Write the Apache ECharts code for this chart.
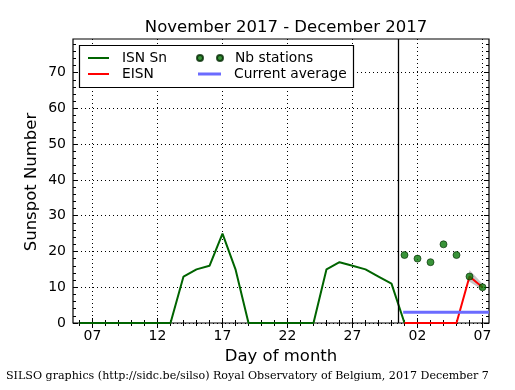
<!DOCTYPE html>
<html>
<head>
<meta charset="utf-8">
<script src="https://cdn.jsdelivr.net/npm/echarts@6/dist/echarts.min.js"></script>
<style>html,body{margin:0;padding:0;background:#fff}#c{width:515px;height:390px}</style>
</head>
<body>
<div id="c"></div>
<script>
// Day index: November days as-is, December days as 30 + day
const isnDays   = [6,7,8,9,10,11,12,13,14,15,16,17,18,19,20,21,22,23,24,25,26,27,28,29,30,31];
const isnValues = [0,0,0,0,0,0,0,0,13,15,16,25,15,0,0,0,0,0,0,15,17,16,15,13,11,0];
const eisnDays   = [31,32,33,34,35,36,37];
const eisnValues = [0,0,0,0,0,13,10];
const nbDays     = [31,32,33,34,35,36,37];
const nbValues   = [19,18,17,22,19,13,10];
const bandDays   = [35.9,36,37];
const bandLow    = [11.3,11.5,9.2];
const bandHigh   = [11.8,14.8,11.0];
const avgDays    = [30.9,37.5];
const avgValues  = [3,3];
const separatorDay = 30.5;
const xRange = [5.5,37.5];
const yRange = [0,79.4];
const xMajorTicks = [7,12,17,22,27,32,37];
const xMinorTicks = [6,7,8,9,10,11,12,13,14,15,16,17,18,19,20,21,22,23,24,25,26,27,28,29,30,31,32,33,34,35,36,37];
const yMajorTicks = [0,10,20,30,40,50,60,70];
const yMinorTicks = [0,2,4,6,8,10,12,14,16,18,20,22,24,26,28,30,32,34,36,38,40,42,44,46,48,50,52,54,56,58,60,62,64,66,68,70,72,74,76,78];

const pair = (xs, ys) => xs.map((x,i)=>[x,ys[i]]);
const dayLabel = v => { const d = v > 30 ? v - 30 : v; return String(Math.round(d)).padStart(2,'0'); };
const FONT = 'DejaVu Sans';
const dotted = {show:true, lineStyle:{color:'#000', type:[1,3], width:1}};

function xAx(pos, ticks, len, labels, split){
  return {type:'value', min:xRange[0], max:xRange[1], position:pos,
    axisLine:{show:false},
    axisTick:{show:true, inside:true, length:len, customValues:ticks, lineStyle:{color:'#000'}},
    axisLabel: labels ? {show:true, customValues:ticks, formatter:dayLabel, color:'#000', fontSize:14, fontFamily:FONT, margin:6} : {show:false},
    splitLine: split ? dotted : {show:false}};
}
function yAx(pos, ticks, len, labels, split){
  return {type:'value', min:yRange[0], max:yRange[1], position:pos,
    axisLine:{show:false},
    axisTick:{show:true, inside:true, length:len, customValues:ticks, lineStyle:{color:'#000'}},
    axisLabel: labels ? {show:true, customValues:ticks, color:'#000', fontSize:14, fontFamily:FONT, margin:7} : {show:false},
    splitLine: split ? dotted : {show:false}};
}
function leg(name, icon, left, centerY, w, h, pad){
  return {left:left, top:centerY-8, padding:0, orient:'vertical', itemWidth:w, itemHeight:h, z:10,
    data:[{name:name, icon:icon}],
    formatter: n => '{a|'+n+'}',
    textStyle:{fontFamily:FONT, fontSize:13.8, color:'#000',
      rich:{a:{fontFamily:FONT, fontSize:13.8, color:'#000', padding:[0,0,0,pad], height:16, lineHeight:16}}}};
}

const chart = echarts.init(document.getElementById('c'), null, {renderer:'canvas'});
chart.setOption({
  animation:false,
  backgroundColor:'#fff',
  title:{text:'November 2017 - December 2017', left:281, top:14, textAlign:'center',
    textStyle:{fontFamily:FONT, fontSize:16.5, fontWeight:'normal', color:'#000'}},
  grid:{left:73, right:26, top:39, bottom:67, show:true, borderColor:'#000', borderWidth:1.2, backgroundColor:'transparent'},
  xAxis:[ xAx('bottom', xMajorTicks, 5, true, true),
          xAx('bottom', xMinorTicks, 3, false, false),
          xAx('top', xMajorTicks, 5, false, false),
          xAx('top', xMinorTicks, 3, false, false) ],
  yAxis:[ yAx('left', yMajorTicks, 5, true, true),
          yAx('left', yMinorTicks, 3, false, false),
          yAx('right', yMajorTicks, 5, false, false),
          yAx('right', yMinorTicks, 3, false, false) ],
  legend:[
    leg('ISN Sn', 'rect', 88, 58, 21, 2, 8),
    leg('EISN', 'rect', 88, 74, 21, 2, 8),
    leg('Nb stations', 'path://M0,3a3,3 0 1,0 6,0a3,3 0 1,0 -6,0Z M20,3a3,3 0 1,0 6,0a3,3 0 1,0 -6,0Z', 196, 58, 26, 6, 7),
    leg('Current average', 'rect', 198, 74, 23, 3, 8)
  ],
  graphic:[
    {type:'rect', shape:{x:79.5, y:45.5, width:274, height:42}, style:{fill:'#fff', stroke:'#000', lineWidth:1.2}, z:5},
    {type:'text', x:281, y:357, style:{text:'Day of month', font:'16.5px "DejaVu Sans"', fill:'#000', textAlign:'center', textVerticalAlign:'middle'}},
    {type:'text', x:32, y:182, rotation:Math.PI/2, style:{text:'Sunspot Number', font:'16.5px "DejaVu Sans"', fill:'#000', textAlign:'center', textVerticalAlign:'middle'}},
    {type:'text', x:6, y:376, style:{text:'SILSO graphics (http://sidc.be/silso) Royal Observatory of Belgium, 2017 December 7', font:'11.1px "DejaVu Serif"', fill:'#000', textAlign:'left', textVerticalAlign:'middle'}}
  ],
  series:[
    {name:'band', type:'custom', silent:true, z:1, data:[[bandDays[0], bandLow[0]]],
     renderItem:(params, api) => {
       const up = bandDays.map((d,i)=>api.coord([d, bandHigh[i]]));
       const lo = bandDays.map((d,i)=>api.coord([d, bandLow[i]])).reverse();
       return {type:'polygon', shape:{points:up.concat(lo)}, style:{fill:'rgba(128,128,128,0.45)'}};
     }},
    {name:'ISN Sn', type:'line', data:pair(isnDays, isnValues), symbol:'none', color:'#006400', lineStyle:{width:2, color:'#006400'}, z:3,
     markLine:{silent:true, symbol:'none', label:{show:false}, lineStyle:{color:'#000', type:'solid', width:1.3}, data:[{xAxis:separatorDay}]}},
    {name:'EISN', type:'line', data:pair(eisnDays, eisnValues), symbol:'none', color:'#ff0000', lineStyle:{width:2, color:'#ff0000'}, z:3},
    {name:'Current average', type:'line', data:pair(avgDays, avgValues), symbol:'none', color:'#6b6bff', lineStyle:{width:3, color:'#6b6bff'}, z:3},
    {name:'Nb stations', type:'scatter', data:pair(nbDays, nbValues), symbol:'circle', symbolSize:7, itemStyle:{color:'#087808', borderColor:'#002800', borderWidth:0.8}, z:4}
  ]
});
</script>
</body>
</html>
